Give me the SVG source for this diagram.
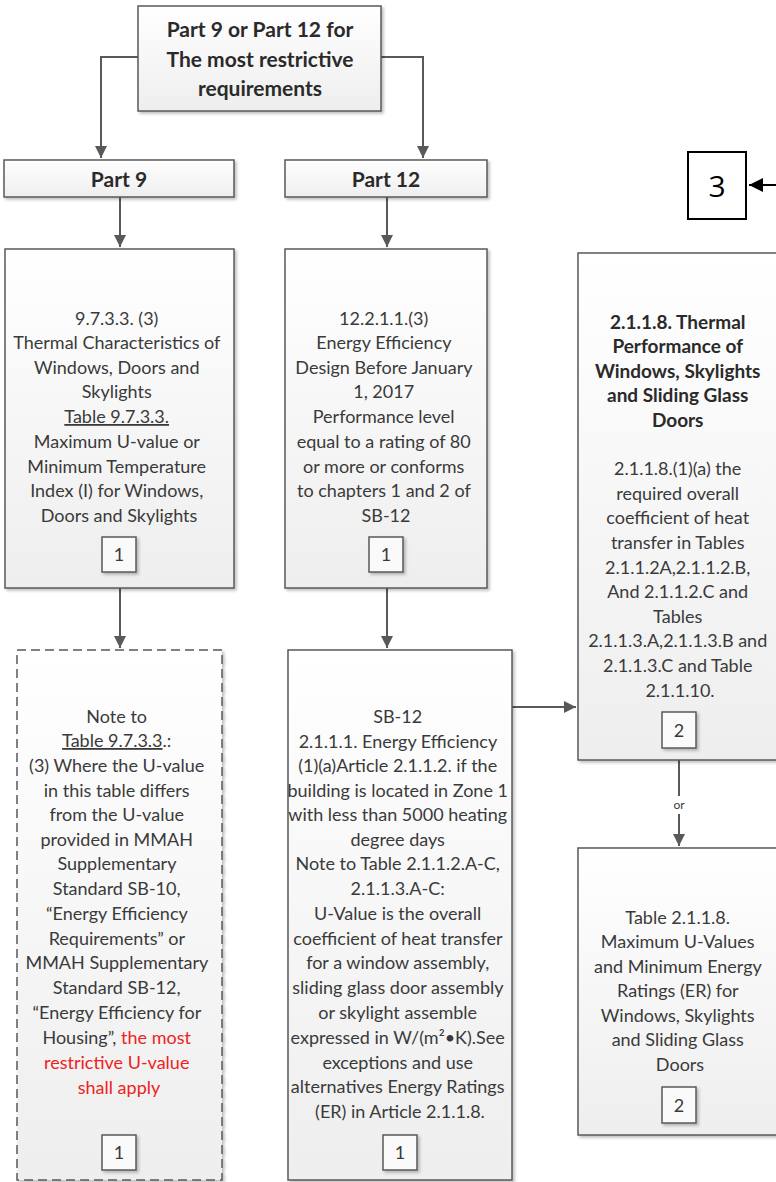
<svg xmlns="http://www.w3.org/2000/svg" width="776" height="1182" viewBox="0 0 776 1182">
<defs>
<linearGradient id="g" x1="0" y1="0" x2="0" y2="1">
<stop offset="0" stop-color="#ffffff"/>
<stop offset="1" stop-color="#eeeeee"/>
</linearGradient>
<filter id="sh" x="-10%" y="-10%" width="130%" height="130%">
<feDropShadow dx="2" dy="2" stdDeviation="1.5" flood-color="#000" flood-opacity="0.25"/>
</filter>
<marker id="ah" markerUnits="userSpaceOnUse" markerWidth="12" markerHeight="12" viewBox="0 0 10 10" refX="10" refY="5" orient="auto">
<path d="M0,0 L10,5 L0,10 z" fill="#595959"/>
</marker>
<marker id="ahk" markerUnits="userSpaceOnUse" markerWidth="14" markerHeight="14" viewBox="0 0 10 10" refX="10" refY="5" orient="auto">
<path d="M0,0 L10,5 L0,10 z" fill="#000"/>
</marker>
<style>
.box{fill:url(#g);stroke:#595959;stroke-width:1.5;filter:url(#sh)}
.dash{stroke-dasharray:9 5}
.num{fill:#fafafa;stroke:#595959;stroke-width:1.5;filter:url(#sh)}
.t{font-family:Lato,"Open Sans",sans-serif;font-size:18px;fill:#3a3a3a;text-anchor:middle}
.b{font-weight:bold;fill:#2a2a2a}
.red{fill:#ee2222}
.u{text-decoration:underline}
.c{fill:none;stroke:#595959;stroke-width:2}
</style>
</defs>

<g id="connectors">
<path class="c" d="M138,57 H101 V158" marker-end="url(#ah)"/>
<path class="c" d="M381,57 H423 V158" marker-end="url(#ah)"/>
<path class="c" d="M120,197 V247" marker-end="url(#ah)"/>
<path class="c" d="M387,197 V247" marker-end="url(#ah)"/>
<path class="c" d="M120,588 V648" marker-end="url(#ah)"/>
<path class="c" d="M387,588 V648" marker-end="url(#ah)"/>
<path class="c" d="M512,707 H576" marker-end="url(#ah)"/>
<path class="c" d="M679,760 V796"/>
<path class="c" d="M679,814 V846" marker-end="url(#ah)"/>
<text class="t" x="679" y="809" style="font-size:12px">or</text>
<path d="M776,185 H749" stroke="#000" stroke-width="2" fill="none" marker-end="url(#ahk)"/>
</g>

<g id="top">
<rect class="box" x="138" y="6" width="243" height="105"/>
<text class="t b" style="font-size:21px"><tspan x="260" y="37">Part 9 or Part 12 for</tspan><tspan x="260" y="67">The most restrictive</tspan><tspan x="260" y="96">requirements</tspan></text>
</g>

<g id="part9">
<rect class="box" x="4" y="160" width="230" height="37"/>
<text class="t b" x="119" y="187" style="font-size:21px">Part 9</text>
</g>

<g id="part12">
<rect class="box" x="285" y="160" width="202" height="37"/>
<text class="t b" x="386" y="187" style="font-size:21px">Part 12</text>
</g>

<g id="box3">
<rect x="688" y="152" width="58" height="67" fill="#fff" stroke="#000" stroke-width="2"/>
<text x="717" y="197" font-family="'Open Sans',sans-serif" font-size="30" text-anchor="middle" fill="#000">3</text>
</g>

<g id="b9733">
<rect class="box" x="5" y="249" width="229" height="339"/>
<text class="t">
<tspan x="119" y="325">9.7.3.3. (3)</tspan>
<tspan x="119" y="349">Thermal Characteristics of</tspan>
<tspan x="119" y="374">Windows, Doors and</tspan>
<tspan x="119" y="398">Skylights</tspan>
<tspan x="119" y="423" class="u">Table 9.7.3.3.</tspan>
<tspan x="119" y="448">Maximum U-value or</tspan>
<tspan x="119" y="473">Minimum Temperature</tspan>
<tspan x="119" y="497">Index (I) for Windows,</tspan>
<tspan x="119" y="522">Doors and Skylights</tspan>
</text>
<rect class="num" x="102" y="537" width="34" height="35"/>
<text class="t" x="119" y="561">1</text>
</g>

<g id="b12211">
<rect class="box" x="285" y="249" width="202" height="339"/>
<text class="t">
<tspan x="386" y="325">12.2.1.1.(3)</tspan>
<tspan x="386" y="349">Energy Efficiency</tspan>
<tspan x="386" y="374">Design Before January</tspan>
<tspan x="386" y="398">1, 2017</tspan>
<tspan x="386" y="423">Performance level</tspan>
<tspan x="386" y="448">equal to a rating of 80</tspan>
<tspan x="386" y="473">or more or conforms</tspan>
<tspan x="386" y="497">to chapters 1 and 2 of</tspan>
<tspan x="386" y="522">SB-12</tspan>
</text>
<rect class="num" x="369" y="537" width="34" height="35"/>
<text class="t" x="386" y="561">1</text>
</g>

<g id="b2118">
<rect class="box" x="578" y="253" width="205" height="507"/>
<text class="t">
<tspan x="680" y="329" class="b" style="font-size:19px">2.1.1.8. Thermal</tspan>
<tspan x="680" y="353" class="b" style="font-size:19px">Performance of</tspan>
<tspan x="680" y="378" class="b" style="font-size:19px">Windows, Skylights</tspan>
<tspan x="680" y="402" class="b" style="font-size:19px">and Sliding Glass</tspan>
<tspan x="680" y="427" class="b" style="font-size:19px">Doors</tspan>
<tspan x="680" y="475">2.1.1.8.(1)(a) the</tspan>
<tspan x="680" y="500">required overall</tspan>
<tspan x="680" y="524">coefficient of heat</tspan>
<tspan x="680" y="549">transfer in Tables</tspan>
<tspan x="680" y="574">2.1.1.2A,2.1.1.2.B,</tspan>
<tspan x="680" y="598">And 2.1.1.2.C and</tspan>
<tspan x="680" y="623">Tables</tspan>
<tspan x="680" y="647">2.1.1.3.A,2.1.1.3.B and</tspan>
<tspan x="680" y="672">2.1.1.3.C and Table</tspan>
<tspan x="680" y="697">2.1.1.10.</tspan>
</text>
<rect class="num" x="662" y="712" width="34" height="36"/>
<text class="t" x="679" y="737">2</text>
</g>

<g id="note">
<rect class="box dash" x="17" y="650" width="205" height="530"/>
<text class="t">
<tspan x="119" y="723">Note to</tspan>
<tspan x="119" y="747"><tspan class="u">Table 9.7.3.3</tspan>.:</tspan>
<tspan x="119" y="772">(3) Where the U-value</tspan>
<tspan x="119" y="797">in this table differs</tspan>
<tspan x="119" y="821">from the U-value</tspan>
<tspan x="119" y="846">provided in MMAH</tspan>
<tspan x="119" y="870">Supplementary</tspan>
<tspan x="119" y="895">Standard SB-10,</tspan>
<tspan x="119" y="920">“Energy Efficiency</tspan>
<tspan x="119" y="945">Requirements” or</tspan>
<tspan x="119" y="969">MMAH Supplementary</tspan>
<tspan x="119" y="994">Standard SB-12,</tspan>
<tspan x="119" y="1019">“Energy Efficiency for</tspan>
<tspan x="119" y="1044">Housing”, <tspan class="red">the most</tspan></tspan>
<tspan x="119" y="1069" class="red">restrictive U-value</tspan>
<tspan x="119" y="1094" class="red">shall apply</tspan>
</text>
<rect class="num" x="102" y="1135" width="34" height="35"/>
<text class="t" x="119" y="1159">1</text>
</g>

<g id="sb12">
<rect class="box" x="288" y="650" width="224" height="530"/>
<text class="t">
<tspan x="400" y="723">SB-12</tspan>
<tspan x="400" y="748">2.1.1.1. Energy Efficiency</tspan>
<tspan x="400" y="772">(1)(a)Article 2.1.1.2. if the</tspan>
<tspan x="400" y="797">building is located in Zone 1</tspan>
<tspan x="400" y="821">with less than 5000 heating</tspan>
<tspan x="400" y="846">degree days</tspan>
<tspan x="400" y="870">Note to Table 2.1.1.2.A-C,</tspan>
<tspan x="400" y="895">2.1.1.3.A-C:</tspan>
<tspan x="400" y="920">U-Value is the overall</tspan>
<tspan x="400" y="945">coefficient of heat transfer</tspan>
<tspan x="400" y="969">for a window assembly,</tspan>
<tspan x="400" y="994">sliding glass door assembly</tspan>
<tspan x="400" y="1019">or skylight assemble</tspan>
<tspan x="400" y="1044">expressed in W/(m²•K).See</tspan>
<tspan x="400" y="1069">exceptions and use</tspan>
<tspan x="400" y="1093">alternatives Energy Ratings</tspan>
<tspan x="400" y="1118">(ER) in Article 2.1.1.8.</tspan>
</text>
<rect class="num" x="383" y="1135" width="34" height="35"/>
<text class="t" x="400" y="1159">1</text>
</g>

<g id="t2118">
<rect class="box" x="578" y="848" width="205" height="287"/>
<text class="t">
<tspan x="680" y="924">Table 2.1.1.8.</tspan>
<tspan x="680" y="948">Maximum U-Values</tspan>
<tspan x="680" y="973">and Minimum Energy</tspan>
<tspan x="680" y="997">Ratings (ER) for</tspan>
<tspan x="680" y="1022">Windows, Skylights</tspan>
<tspan x="680" y="1046">and Sliding Glass</tspan>
<tspan x="680" y="1071">Doors</tspan>
</text>
<rect class="num" x="662" y="1087" width="34" height="36"/>
<text class="t" x="679" y="1112">2</text>
</g>
</svg>
